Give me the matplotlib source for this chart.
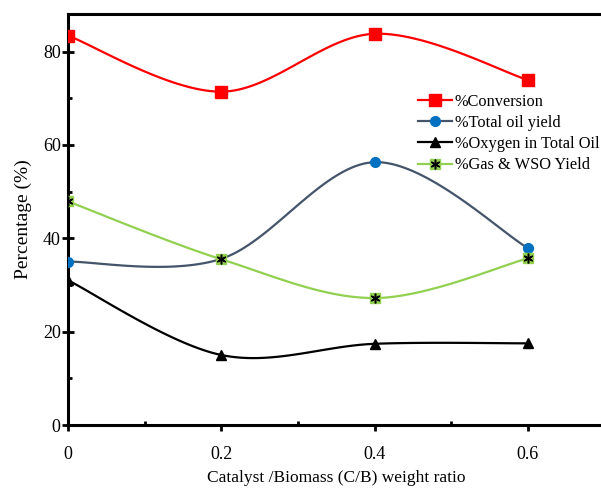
import numpy as np
import matplotlib
matplotlib.use("Agg")
import matplotlib.pyplot as plt
from matplotlib.lines import Line2D
from matplotlib.legend_handler import HandlerTuple
from matplotlib.ticker import MultipleLocator

plt.rcParams['font.family'] = ['Liberation Serif', 'DejaVu Serif']

cb_ratio = [0.0, 0.2, 0.4, 0.6]
conversion = [83.4, 71.4, 83.8, 73.9]
total_oil = [35.0, 35.6, 56.3, 37.9]
oxygen_oil = [31.0, 15.0, 17.4, 17.5]
gas_wso = [47.9, 35.5, 27.2, 35.7]

series_labels = ['%Conversion', '%Total oil yield',
                 '%Oxygen in Total Oil', '%Gas & WSO Yield']


def smooth(x, y, n=40):
    """Spreadsheet-style smoothed curve: cubic Bezier segments with
    Catmull-Rom control points (tension 1/6)."""
    x = np.asarray(x, float)
    y = np.asarray(y, float)
    px = np.concatenate([[x[0]], x, [x[-1]]])
    py = np.concatenate([[y[0]], y, [y[-1]]])
    xs, ys = [], []
    t = np.linspace(0, 1, n)
    for i in range(len(x) - 1):
        p0 = np.array([px[i + 1], py[i + 1]])
        p3 = np.array([px[i + 2], py[i + 2]])
        p1 = p0 + (np.array([px[i + 2], py[i + 2]]) - np.array([px[i], py[i]])) / 6
        p2 = p3 - (np.array([px[i + 3], py[i + 3]]) - np.array([px[i + 1], py[i + 1]])) / 6
        b = ((1 - t) ** 3)[:, None] * p0 + (3 * (1 - t) ** 2 * t)[:, None] * p1 \
            + (3 * (1 - t) * t ** 2)[:, None] * p2 + (t ** 3)[:, None] * p3
        xs.append(b[:, 0])
        ys.append(b[:, 1])
    return np.concatenate(xs), np.concatenate(ys)


fig = plt.figure(figsize=(6.01, 4.88), dpi=100)
ax = fig.add_axes([0.1131, 0.129, 0.893, 0.842])

red = '#FF0000'
blue_line = '#44546A'
blue_mark = '#0070C0'
green = '#92D050'

# %Conversion
sx, sy = smooth(cb_ratio, conversion)
ax.plot(sx, sy, color=red, lw=1.6, zorder=2)
ax.plot(cb_ratio, conversion, ls='none', marker='s', ms=8.5, color=red, zorder=3)

# %Total oil yield
sx, sy = smooth(cb_ratio, total_oil)
ax.plot(sx, sy, color=blue_line, lw=1.6, zorder=2)
ax.plot(cb_ratio, total_oil, ls='none', marker='o', ms=7, color=blue_mark, zorder=3)

# %Oxygen in Total Oil
sx, sy = smooth(cb_ratio, oxygen_oil)
ax.plot(sx, sy, color='black', lw=1.6, zorder=2)
ax.plot(cb_ratio, oxygen_oil, ls='none', marker='^', ms=7, color='black', zorder=3)

# %Gas & WSO Yield
sx, sy = smooth(cb_ratio, gas_wso)
ax.plot(sx, sy, color=green, lw=1.6, zorder=4)
ax.plot(cb_ratio, gas_wso, ls='none', marker='s', ms=7, color=green, zorder=5)
ax.plot(cb_ratio, gas_wso, ls='none', marker=(6, 2, 0), ms=7, mew=1.1,
        color='black', zorder=6)

ax.set_xlim(0, 0.7)
ax.set_ylim(0, 88)
ax.xaxis.set_major_locator(MultipleLocator(0.2))
ax.xaxis.set_minor_locator(MultipleLocator(0.1))
ax.yaxis.set_major_locator(MultipleLocator(20))
ax.yaxis.set_minor_locator(MultipleLocator(10))
ax.set_xticks([0, 0.2, 0.4, 0.6])
ax.set_xticklabels(['0', '0.2', '0.4', '0.6'])

for side in ['left', 'bottom', 'top', 'right']:
    ax.spines[side].set_linewidth(2.2)
    ax.spines[side].set_color('black')

ax.tick_params(axis='y', which='major', direction='inout', length=8.5, width=2,
               labelsize=13, pad=1)
ax.tick_params(axis='y', which='minor', direction='in', length=3, width=2)
ax.tick_params(axis='x', which='major', direction='out', length=4, width=2,
               labelsize=13, pad=11)
ax.tick_params(axis='x', which='minor', direction='in', length=3, width=2)

ax.set_xlabel('Catalyst /Biomass (C/B) weight ratio', fontsize=12.5, labelpad=5)
ax.set_ylabel('Percentage (%)', fontsize=14, labelpad=8)

handles = [
    Line2D([], [], color=red, lw=1.6, marker='s', ms=8.5),
    Line2D([], [], color=blue_line, lw=1.6, marker='o', ms=7,
           mfc=blue_mark, mec=blue_mark),
    Line2D([], [], color='black', lw=1.6, marker='^', ms=7),
    (Line2D([], [], color=green, lw=1.6, marker='s', ms=7),
     Line2D([], [], ls='none', marker=(6, 2, 0), ms=7, mew=1.1, color='black')),
]
fig.legend(handles, series_labels, loc='upper left',
           bbox_to_anchor=(0.695, 0.808), frameon=False, fontsize=11.8,
           handlelength=2.1, handletextpad=0.15, labelspacing=0.32,
           borderpad=0, borderaxespad=0,
           handler_map={tuple: HandlerTuple(ndivide=1)})

fig.savefig('out.png', dpi=100)
